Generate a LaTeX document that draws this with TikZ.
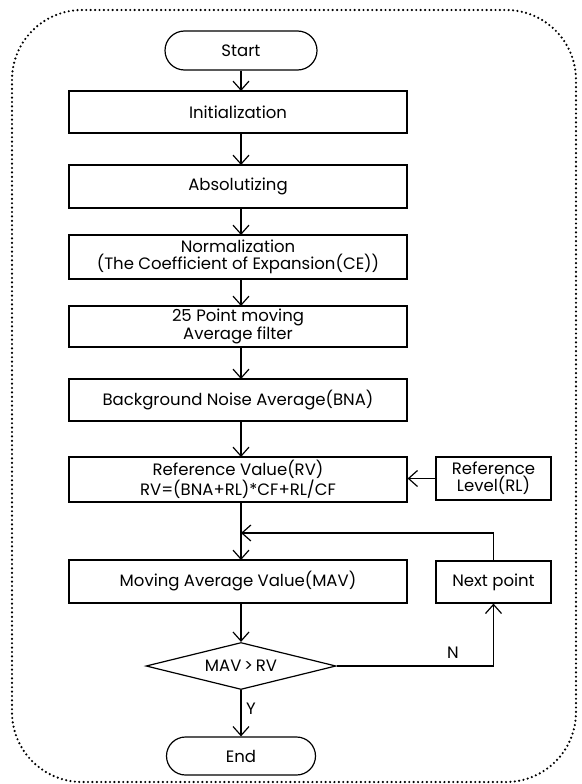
\documentclass[tikz,border=0pt]{standalone}
\usepackage{fontspec}
\setmainfont{Poppins}
\usetikzlibrary{arrows.meta,shapes.geometric,shapes.misc}
\begin{document}
\begin{tikzpicture}[x=1pt,y=-1pt,
  line width=1.2pt,
  font=\fontsize{16.5}{17}\selectfont,
  proc/.style={draw,rectangle,minimum width=338pt,align=center,inner sep=0pt},
  side/.style={draw,rectangle,minimum width=115pt,minimum height=43pt,align=center,inner sep=0pt},
  term/.style={draw,rounded rectangle,inner sep=0pt},
  dec/.style={draw,diamond,aspect=4,inner sep=0pt,minimum width=190pt,minimum height=47pt},
  arr/.style={-{Straight Barb[length=9pt,width=16pt,line width=1.2pt]}},
  lbl/.style={inner sep=0pt}]
\useasboundingbox (0,0) rectangle (581,784);
\draw[line width=2.4pt,dash pattern=on 0pt off 4.4pt,line cap=round,rounded corners=70pt] (12,10) rectangle (576,782);

\node[term,minimum width=152pt,minimum height=39pt] (start) at (241,50.5) {Start};
\node[proc,minimum height=42pt] (init) at (238,112) {Initialization};
\node[proc,minimum height=43pt] (abs) at (238,186.5) {Absolutizing};
\node[proc,minimum height=44pt] (norm) at (238,257) {Normalization\\(The Coefficient of Expansion(CE))};
\node[proc,minimum height=41pt] (avg) at (238,326.5) {25 Point moving\\Average filter};
\node[proc,minimum height=42pt] (bna) at (238,400) {Background Noise Average(BNA)};
\node[proc,minimum height=45pt] (rv) at (238,479.5) {Reference Value(RV)\\RV=(BNA+RL)*CF+RL/CF};
\node[side] (rl) at (493.5,478.5) {Reference\\Level(RL)};
\node[proc,minimum height=43pt] (mav) at (238,581.5) {Moving Average Value(MAV)};
\node[side,minimum height=42pt] (next) at (493.5,582) {Next point};
\node[dec] (cmp) at (241,666) {MAV\,>\,RV};
\node[term,minimum width=149pt,minimum height=38pt] (end) at (241,756) {End};

\coordinate (join) at (241,533);

\draw[arr] (start.south) -- (241,91);
\draw[arr] (241,133) -- (241,165);
\draw[arr] (241,208) -- (241,235);
\draw[arr] (241,279) -- (241,306);
\draw[arr] (241,347) -- (241,379);
\draw[arr] (241,421) -- (241,457);
\draw[arr] (rl.west) -- (rl.west -| rv.east);
\draw[arr] (241,502) -- (241,560);
\draw[arr] (next.north) |- (join);
\draw[arr] (241,603) -- (cmp.north);
\draw[arr] (cmp.east) -| (next.south);
\draw[arr] (cmp.south) -- (end.north);
\node[lbl] (nlab) at (453,653) {N};
\node[lbl] (ylab) at (251,709) {Y};
\end{tikzpicture}
\end{document}
